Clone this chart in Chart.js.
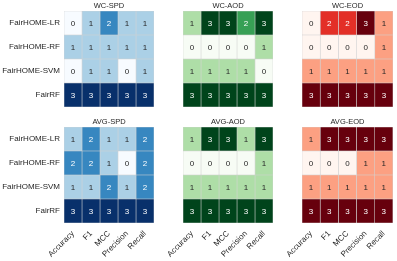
<!DOCTYPE html>
<html>
<head>
<meta charset="utf-8">
<script src="https://cdn.jsdelivr.net/npm/chart.js@4.4.0/dist/chart.umd.min.js"></script>
<style>
  html, body { margin: 0; padding: 0; background: #fff; }
  #wrap { position: relative; width: 397px; height: 261px; overflow: hidden; }
  #wrap canvas { position: absolute; left: 0; top: 0; }
</style>
</head>
<body>
<div id="wrap"></div>
<script>
/* ═══════════════════════════════════════════
   DATA
═══════════════════════════════════════════ */
const rows = ['FairHOME-LR', 'FairHOME-RF', 'FairHOME-SVM', 'FairRF'];
const metrics = ['Accuracy', 'F1', 'MCC', 'Precision', 'Recall'];

const wcSPD  = [[0, 1, 2, 1, 1], [1, 1, 1, 1, 1], [0, 1, 1, 0, 1], [3, 3, 3, 3, 3]];
const wcAOD  = [[1, 3, 3, 2, 3], [0, 0, 0, 0, 1], [1, 1, 1, 1, 0], [3, 3, 3, 3, 3]];
const wcEOD  = [[0, 2, 2, 3, 1], [0, 0, 0, 0, 1], [1, 1, 1, 1, 1], [3, 3, 3, 3, 3]];
const avgSPD = [[1, 2, 1, 1, 2], [2, 2, 1, 0, 2], [1, 1, 2, 1, 2], [3, 3, 3, 3, 3]];
const avgAOD = [[1, 3, 3, 1, 3], [0, 0, 0, 0, 1], [1, 1, 1, 1, 1], [3, 3, 3, 3, 3]];
const avgEOD = [[1, 3, 3, 3, 3], [0, 0, 0, 1, 1], [1, 1, 1, 1, 1], [3, 3, 3, 3, 3]];

// colormap samples at 0, 1/3, 2/3, 1
const blues  = ['#f7fbff', '#abd0e6', '#3787c0', '#08306b'];
const greens = ['#f7fcf5', '#aedea7', '#37a055', '#00441b'];
const reds   = ['#fff5f0', '#fca082', '#e32f27', '#67000d'];

const panels = [
  { title: 'WC-SPD',  data: wcSPD,  cmap: blues,  col: 0, row: 0 },
  { title: 'WC-AOD',  data: wcAOD,  cmap: greens, col: 1, row: 0 },
  { title: 'WC-EOD',  data: wcEOD,  cmap: reds,   col: 2, row: 0 },
  { title: 'AVG-SPD', data: avgSPD, cmap: blues,  col: 0, row: 1 },
  { title: 'AVG-AOD', data: avgAOD, cmap: greens, col: 1, row: 1 },
  { title: 'AVG-EOD', data: avgEOD, cmap: reds,   col: 2, row: 1 }
];

/* ═══════════════════════════════════════════
   LAYOUT
═══════════════════════════════════════════ */
const W = 397, H = 261;
const GRID_X = [[64, 154], [183, 273], [302, 393]];
const GRID_Y = [[11, 107], [127, 223]];
const X_AXIS_H = 38;
const Y_AXIS_W = 64;
const TEXT = '#262626';

Chart.defaults.font.family = "'Liberation Sans', Arial, sans-serif";
Chart.defaults.color = TEXT;

// numbers inside the cells
function cellText(values) {
  return {
    id: 'cellText',
    afterDatasetsDraw(chart) {
      const ctx = chart.ctx;
      ctx.save();
      ctx.font = "8px 'Liberation Sans', Arial, sans-serif";
      ctx.textAlign = 'center';
      ctx.textBaseline = 'middle';
      chart.data.datasets.forEach((ds, j) => {
        chart.getDatasetMeta(j).data.forEach((bar, i) => {
          const v = values[i][j];
          ctx.fillStyle = v >= 2 ? '#ffffff' : TEXT;
          ctx.fillText(String(v), (bar.x + bar.base) / 2, bar.y + 0.5);
        });
      });
      ctx.restore();
    }
  };
}

function makePanel(p) {
  const cv = document.createElement('canvas');
  cv.width = W; cv.height = H;
  cv.style.width = W + 'px'; cv.style.height = H + 'px';
  document.getElementById('wrap').appendChild(cv);

  const [x0, x1] = GRID_X[p.col];
  const [y0, y1] = GRID_Y[p.row];
  const bottomRow = p.row === 1;
  const leftCol = p.col === 0;

  const datasets = metrics.map((m, j) => ({
    label: m,
    data: rows.map(() => [j, j + 1]),
    backgroundColor: rows.map((r, i) => p.cmap[p.data[i][j]]),
    borderColor: '#d2d2d2',
    borderWidth: 0.6,
    borderSkipped: false,
    barPercentage: 1,
    categoryPercentage: 1,
    grouped: false
  }));

  new Chart(cv, {
    type: 'bar',
    data: { labels: rows, datasets },
    options: {
      indexAxis: 'y',
      responsive: false,
      animation: false,
      events: [],
      layout: {
        padding: {
          left: leftCol ? x0 - Y_AXIS_W : x0,
          right: W - x1,
          top: y0 - 10,
          bottom: bottomRow ? H - y1 - X_AXIS_H : H - y1
        }
      },
      plugins: {
        legend: { display: false },
        tooltip: { enabled: false },
        title: {
          display: true, text: p.title, fullSize: false, color: TEXT,
          font: { size: 7.5, weight: 'normal', lineHeight: 1.2 },
          padding: { top: 0, bottom: 1 }
        }
      },
      scales: {
        x: { type: 'linear', min: 0, max: 5, display: false },
        xm: {
          type: 'category', labels: metrics, offset: true, position: 'bottom',
          display: bottomRow,
          grid: { display: false, drawTicks: false },
          border: { display: false },
          ticks: { minRotation: 45, maxRotation: 45, autoSkip: false, padding: 6, color: TEXT, font: { size: 8 } },
          afterFit: s => { if (bottomRow) s.height = X_AXIS_H; }
        },
        y: {
          type: 'category', offset: true, display: leftCol,
          grid: { display: false, drawTicks: false },
          border: { display: false },
          ticks: { padding: 4, color: TEXT, font: { size: 8 } },
          afterFit: s => { if (leftCol) s.width = Y_AXIS_W; }
        }
      }
    },
    plugins: [cellText(p.data)]
  });
}

panels.forEach(makePanel);
</script>
</body>
</html>
